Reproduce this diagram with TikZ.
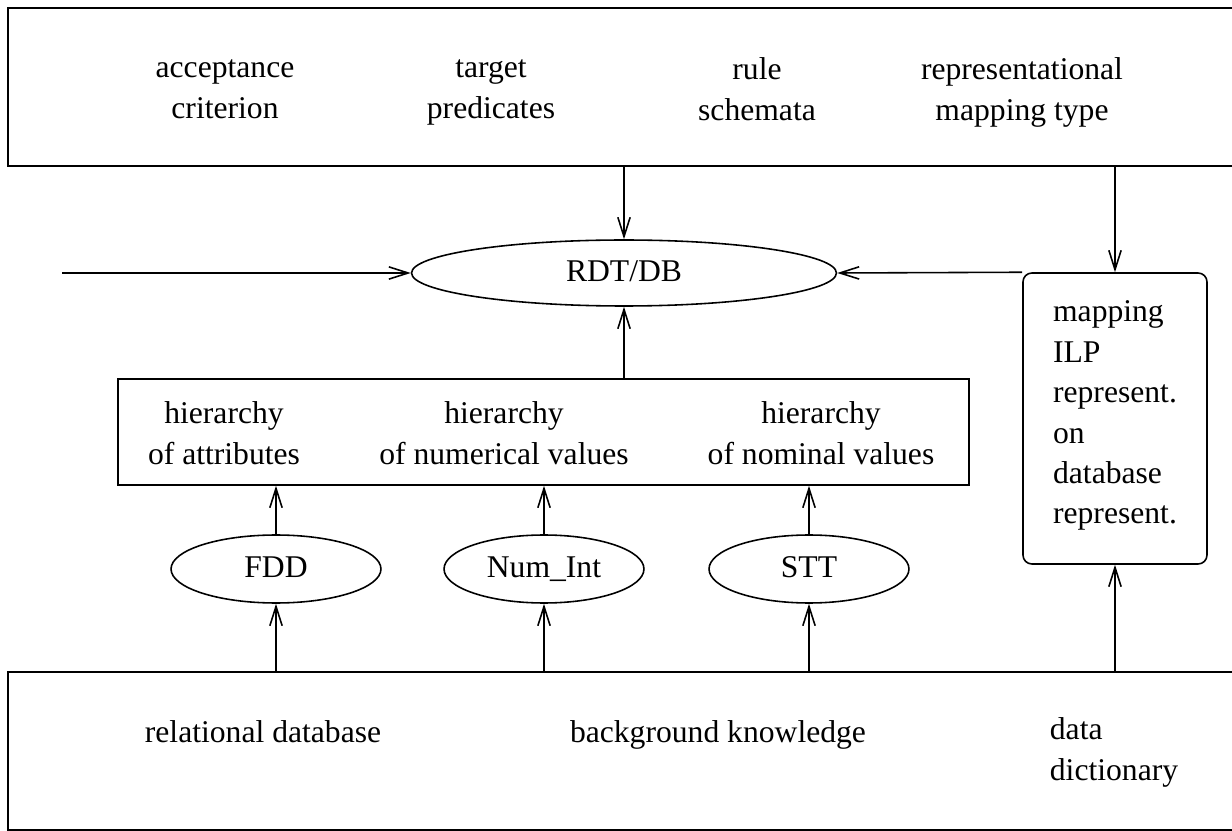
\documentclass[tikz,border=0pt]{standalone}
\usepackage{fontspec}
\setmainfont{Liberation Serif}
\usetikzlibrary{shapes.geometric,arrows.meta}

\tikzset{
  >={Straight Barb[length=11pt,width=7pt]},
  box/.style={draw, rectangle, inner sep=0pt},
  oval/.style={draw, ellipse, inner sep=0pt, minimum height=1.36cm},
  txt/.style={align=center, font=\fontsize{18}{23}\selectfont,
              execute at begin node=\strut, execute at end node=\strut},
}

\begin{document}
\begin{tikzpicture}[x=0.02cm, y=-0.02cm, line width=0.9pt]
  \useasboundingbox (0,0) rectangle (1232,831);

  % user input and sources
  \node[box, minimum width=24.84cm, minimum height=3.16cm] (settings) at (629,87) {};
  \node[box, minimum width=24.84cm, minimum height=3.16cm] (sources) at (629,751) {};
  \node[txt] (accept) at (225,95) {acceptance\\criterion};
  \node[txt] (target) at (491,95) {target\\predicates};
  \node[txt] (schema) at (757,95) {rule\\schemata};
  \node[txt] (mtype)  at (1022,95) {representational\\mapping type};
  \node[txt] (reldb)  at (263,734) {relational database};
  \node[txt] (bgk)    at (718,734) {background knowledge};
  \node[txt, align=left] (dict) at (1114,755) {data\\dictionary};

  % learner and preprocessing
  \node[oval, txt, minimum width=8.5cm, minimum height=1.32cm] (rdt) at (624,273) {RDT/DB};
  \coordinate (feed) at (62,273);
  \node[box, txt, align=left, rounded corners=5pt, minimum width=3.68cm,
        minimum height=5.82cm] (map) at (1115,418.5)
        {mapping\\ILP\\represent.\\on\\database\\represent.};

  \node[box, minimum width=17.02cm, minimum height=2.12cm] (hier) at (543.5,432) {};
  \node[txt] (hattr) at (224,439) {hierarchy\\of attributes};
  \node[txt] (hnum)  at (504,439) {hierarchy\\of numerical values};
  \node[txt] (hnom)  at (821,439) {hierarchy\\of nominal values};

  \node[oval, txt, minimum width=4.2cm] (fdd)    at (276,569) {FDD};
  \node[oval, txt, minimum width=4.0cm] (numint) at (544,569) {Num\_Int};
  \node[oval, txt, minimum width=4.0cm] (stt)    at (809,569) {STT};

  % connectors
  \draw[->] (feed) -- (rdt);
  \draw[->] (settings.south -| rdt) -- (rdt);
  \draw[->] (settings.south -| map) -- (map);
  \draw[->] (map.north west) -- (rdt.east);
  \draw[->] (hier.north -| rdt) -- (rdt);
  \foreach \e in {fdd,numint,stt} {
    \draw[->] (\e) -- (\e |- hier.south);
    \draw[->] (\e |- sources.north) -- (\e);
  }
  \draw[->] (sources.north -| map) -- (map);
\end{tikzpicture}
\end{document}
